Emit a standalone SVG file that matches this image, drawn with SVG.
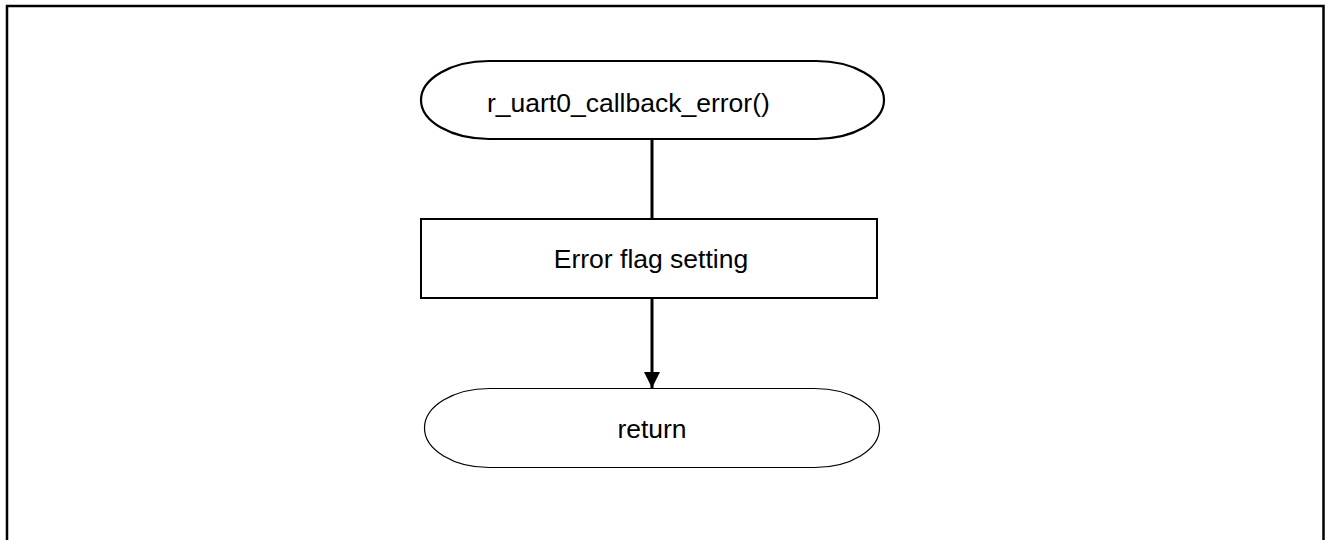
<svg xmlns="http://www.w3.org/2000/svg" width="1325" height="540" viewBox="0 0 1325 540">
<style>
.lbl{font-family:"Liberation Sans",Arial,sans-serif;font-size:26.5px;fill:#000}
.conn{stroke:#000;stroke-width:3;fill:none}
</style>
<defs>
<marker id="arr" markerUnits="userSpaceOnUse" markerWidth="18" markerHeight="18" refX="16" refY="8" orient="auto">
<path d="M0,0 L16,8 L0,16 Z" fill="#000"/>
</marker>
</defs>
<rect x="0" y="0" width="1325" height="540" fill="#fff"/>
<path d="M7,545 L7,6 L1323.5,6 L1323.5,545" fill="none" stroke="#000" stroke-width="2.5"/>
<g id="connectors">
<line class="conn" x1="652" y1="139" x2="652" y2="219"/>
<line class="conn" x1="652" y1="298" x2="652" y2="388" marker-end="url(#arr)"/>
</g>
<g id="start">
<rect x="421" y="61" width="463" height="78" rx="68" ry="39" fill="#fff" stroke="#000" stroke-width="2.2"/>
<text class="lbl" x="487" y="112">r_uart0_callback_error()</text>
</g>
<g id="process">
<rect x="421" y="219" width="456" height="79" fill="#fff" stroke="#000" stroke-width="2"/>
<text class="lbl" x="651" y="268" text-anchor="middle">Error flag setting</text>
</g>
<g id="end">
<rect x="424.5" y="388.5" width="455" height="79" rx="65" ry="39.5" fill="#fff" stroke="#000" stroke-width="1.2"/>
<text class="lbl" x="652" y="438" text-anchor="middle">return</text>
</g>
</svg>
